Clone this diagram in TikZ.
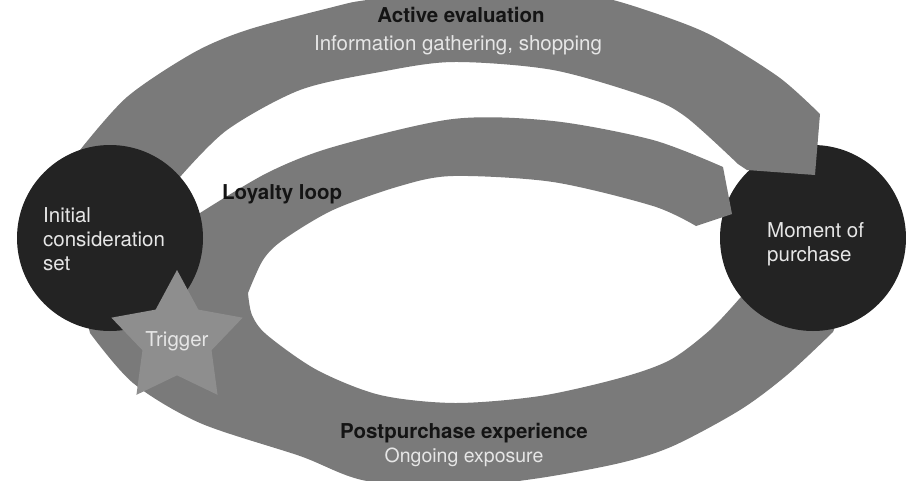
\documentclass[tikz,border=0pt]{standalone}
\usepackage{fontspec}
\setmainfont{TeX Gyre Heros}
\usetikzlibrary{shapes.geometric}
\definecolor{bandGray}{HTML}{7A7A7A}
\definecolor{stageDark}{HTML}{232323}
\definecolor{starGray}{HTML}{8E8E8E}
\definecolor{softWhite}{HTML}{E6E6E6}
\definecolor{headBlack}{HTML}{141414}

\begin{document}
\begin{tikzpicture}[
  x=1pt, y=-1pt,
  band/.style={fill=bandGray},
  stage/.style={circle, fill=stageDark, minimum size=186pt, inner sep=0pt},
  trigger/.style={star, star points=5, star point ratio=1.9, fill=starGray,
    minimum size=138pt, inner sep=0pt},
  heading/.style={font=\bfseries\fontsize{20.5}{24}\selectfont, text=headBlack, inner sep=0pt},
  subline/.style={font=\fontsize{20.5}{24}\selectfont, text=softWhite, inner sep=0pt},
  stagetext/.style={font=\fontsize{20.5}{24}\selectfont, text=softWhite, align=left, inner sep=0pt}
]
  % Frame
  \useasboundingbox (0,0) rectangle (906,480);
  \clip (0,0) rectangle (906,480);

  % Postpurchase band (runs under the right circle)
  \fill[band] plot[smooth] coordinates {(248,293) (252,315) (267,335) (317,370) (380,395)
      (455,403) (540,396) (620,378) (670,360) (710,330) (740,298)}
    -- (790,250) -- (850,290)
    -- plot[smooth] coordinates {(833,332) (787,375) (740,410) (673,446) (620,463)
      (540,478) (470,485) (367,481) (300,456) (200,423) (133,383) (90,333)}
    -- (80,290) -- cycle;

  % Moment of purchase
  \node[stage] (buy) at (813,238) {};

  % Loyalty loop band, tip over the right circle
  \fill[band] plot[smooth] coordinates {(200,213) (267,173) (333,147) (453,119) (553,121)
      (653,140) (723,167)}
    -- (732,214) -- (696,226)
    -- plot[smooth] coordinates {(696,226) (653,206) (553,182) (453,176) (400,186)
      (333,210) (283,240) (263,260) (248,293)}
    -- (150,300) -- (140,230) -- cycle;

  % Active evaluation band
  \fill[band] plot[smooth] coordinates {(80,150) (127,97) (193,53) (247,30) (333,7)
      (367,0) (460,-10) (560,-8) (613,0) (680,22) (720,40) (780,78) (820,114)}
    -- (815,175) -- (747,170)
    -- plot[smooth] coordinates {(738,164) (686,117) (647,97) (553,70) (453,62)
      (380,72) (300,90) (227,130) (180,177)}
    -- (150,200) -- (90,200) -- cycle;

  % Initial consideration set and trigger
  \node[stage] (init) at (110,238) {};
  \node[trigger] (trig) at (177,339) {};

  % Stage labels
  \node[stagetext, anchor=north west] (inittext) at (43,207) {Initial\\consideration\\set};
  \node[stagetext, anchor=north west] (buytext) at (767,222) {Moment of\\purchase};
  \node[stagetext, anchor=base] (trigtext) at (177,346) {Trigger};

  % Band labels
  \node[heading, anchor=base] (evalhead) at (461,22) {Active evaluation};
  \node[subline, anchor=base] (evalsub) at (458,50) {Information gathering, shopping};
  \node[heading, anchor=base west] (loyalhead) at (222,199) {Loyalty loop};
  \node[heading, anchor=base] (posthead) at (464,438) {Postpurchase experience};
  \node[subline, anchor=base, font=\fontsize{19.5}{24}\selectfont] (postsub) at (464,462)
    {Ongoing exposure};
\end{tikzpicture}
\end{document}
